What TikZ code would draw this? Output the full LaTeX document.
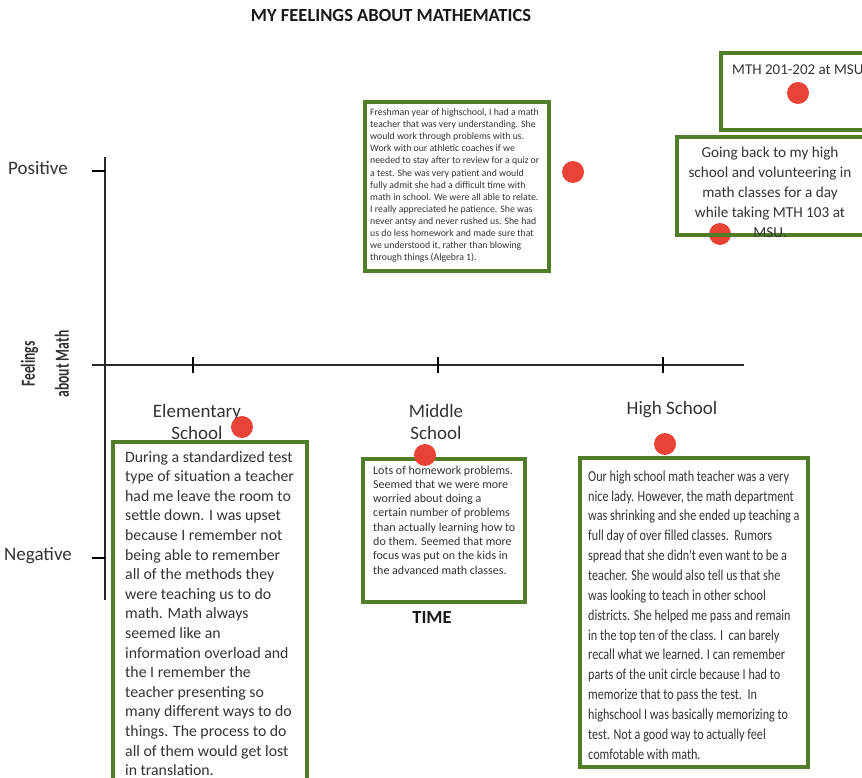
\documentclass[tikz,border=0pt]{standalone}
\usepackage{fontspec}
\setmainfont{Carlito}
\newfontfamily\narrowfont[FakeStretch=0.8]{Carlito}
\newfontfamily\axisfont[FakeStretch=0.68]{Carlito}
\definecolor{boxgreen}{RGB}{82,125,40}
\definecolor{dotred}{RGB}{233,66,54}
\definecolor{axisgray}{RGB}{40,40,40}
\tikzset{
  storybox/.style={draw=boxgreen, line width=3.5pt, inner sep=0pt, rectangle},
  dot/.style={circle, fill=dotred, inner sep=0pt, minimum size=22pt},
  axisline/.style={draw=axisgray, line width=1.8pt},
  tickline/.style={draw=black, line width=2.6pt},
  storytext/.style={anchor=north west, inner sep=0pt, align=left, text=black!80},
  label/.style={inner sep=0pt, text=black!80, align=center},
  levellabel/.style={label, font=\fontsize{19}{21.5}\selectfont}
}
\begin{document}
\begin{tikzpicture}[x=1pt,y=-1pt]
\useasboundingbox (0,0) rectangle (862,778);

% title
\node[label, text=black!90, font=\bfseries\fontsize{18.5}{20}\selectfont] (title) at (391,16) {MY FEELINGS ABOUT MATHEMATICS};

% axes
\coordinate (ytop) at (105,157);
\coordinate (ybot) at (105,600);
\coordinate (xleft) at (92,365);
\coordinate (xright) at (744,365);
\draw[axisline] (ytop) -- (ybot);
\draw[axisline] (xleft) -- (xright);
\coordinate (pos) at (105,171);
\coordinate (neg) at (105,558);
\draw[tickline] (pos) -- ++(-13,0);
\draw[tickline] (neg) -- ++(-13,0);
\foreach \tx/\tn in {193/te,438/tm,663/th}{
  \coordinate (\tn) at (\tx,365);
  \draw[tickline] ([yshift=8pt]\tn) -- ([yshift=-8pt]\tn);
}

% axis labels
\node[levellabel] (lpos) at (38,168) {Positive};
\node[levellabel] (lneg) at (38,556) {Negative};
\node[label, rotate=90, font=\axisfont\bfseries\fontsize{20}{34}\selectfont] (lfeel) at (45,364) {Feelings\\about Math};
\node[levellabel] (lel) at (197,422) {Elementary\\School};
\node[levellabel] (lmid) at (436,422) {Middle\\School};
\node[levellabel] (lhigh) at (672,410) {High School};
\node[label, text=black!90, font=\bfseries\fontsize{18.5}{20}\selectfont] (ltime) at (432,617) {TIME};

% dot that sits under the box border
\node[dot] (dgo) at (720,234) {};

% story boxes
\node[storybox, minimum width=184pt, minimum height=169pt] (bfresh) at (457,186.5) {};
\node[storybox, minimum width=179pt, minimum height=77pt] (bmth) at (810.5,91.5) {};
\node[storybox, minimum width=189pt, minimum height=98pt] (bgo) at (771.5,186) {};
\node[storybox, minimum width=194pt, minimum height=358pt] (bel) at (210,621) {};
\node[storybox, minimum width=162pt, minimum height=143pt] (bmid) at (444,530.5) {};
\node[storybox, minimum width=228pt, minimum height=309pt] (bhigh) at (694,612.5) {};

% box texts
\node[storytext, font=\fontsize{9.8}{12.1}\selectfont] (tfresh) at (370,108.5) {Freshman year of highschool, I had a math\\
teacher that was very understanding. She\\
would work through problems with us.\\
Work with our athletic coaches if we\\
needed to stay after to review for a quiz or\\
a test. She was very patient and would\\
fully admit she had a difficult time with\\
math in school. We were all able to relate.\\
I really appreciated he patience. She was\\
never antsy and never rushed us. She had\\
us do less homework and made sure that\\
we understood it, rather than blowing\\
through things (Algebra 1).};

\node[storytext, anchor=west, font=\fontsize{15}{20}\selectfont] (tmth) at (732,70) {MTH 201-202 at MSU};

\node[storytext, anchor=north, align=center, font=\fontsize{15.2}{20}\selectfont] (tgo) at (770,146.5) {Going back to my high\\
school and volunteering in\\
math classes for a day\\
while taking MTH 103 at\\
MSU.};

\node[storytext, font=\fontsize{15.8}{19.6}\selectfont] (tel) at (125,451) {During a standardized test\\
type of situation a teacher\\
had me leave the room to\\
settle down. I was upset\\
because I remember not\\
being able to remember\\
all of the methods they\\
were teaching us to do\\
math. Math always\\
seemed like an\\
information overload and\\
the I remember the\\
teacher presenting so\\
many different ways to do\\
things. The process to do\\
all of them would get lost\\
in translation.};

\node[storytext, font=\fontsize{12}{14.3}\selectfont] (tmid) at (373,465.5) {Lots of homework problems.\\
Seemed that we were more\\
worried about doing a\\
certain number of problems\\
than actually learning how to\\
do them. Seemed that more\\
focus was put on the kids in\\
the advanced math classes.};

\node[storytext, font=\narrowfont\fontsize{15.2}{19.85}\selectfont] (thigh) at (588,470.5) {Our high school math teacher was a very\\
nice lady. However, the math department\\
was shrinking and she ended up teaching a\\
full day of over filled classes.\ \ Rumors\\
spread that she didn't even want to be a\\
teacher. She would also tell us that she\\
was looking to teach in other school\\
districts. She helped me pass and remain\\
in the top ten of the class. I\ \ can barely\\
recall what we learned. I can remember\\
parts of the unit circle because I had to\\
memorize that to pass the test.\ \ In\\
highschool I was basically memorizing to\\
test. Not a good way to actually feel\\
comfotable with math.};

% remaining dots
\node[dot] (dfresh) at (573,172) {};
\node[dot] (dmth) at (798,93) {};
\node[dot] (del) at (242,427) {};
\node[dot] (dmid) at (425,455) {};
\node[dot] (dhigh) at (665,444) {};
\end{tikzpicture}
\end{document}
